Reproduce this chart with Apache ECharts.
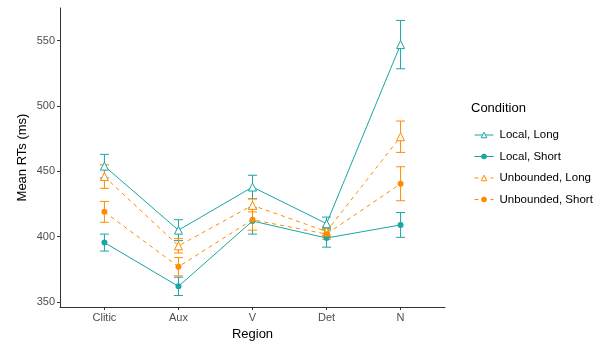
<!DOCTYPE html>
<html><head><meta charset="utf-8">
<script src="https://cdn.jsdelivr.net/npm/echarts@6/dist/echarts.min.js"></script>
<style>html,body{margin:0;padding:0;background:#fff}#c{width:596px;height:342px}</style>
</head><body><div id="c"></div>
<script>
var regions = ['Clitic', 'Aux', 'V', 'Det', 'N'];
var yTicks = [350, 400, 450, 500, 550];
var seriesNames = ['Local, Long', 'Local, Short', 'Unbounded, Long', 'Unbounded, Short'];
var localLong = [454, 405, 438, 410, 547];
var localLongErr = [9, 8, 9, 5, 18.5];
var localShort = [395.5, 362, 412, 399, 409];
var localShortErr = [6.5, 7, 10, 7, 9.5];
var unbLong = [446, 393, 424, 404, 476.5];
var unbLongErr = [9, 5.5, 5, 4, 12];
var unbShort = [419, 377, 413, 402, 440.5];
var unbShortErr = [8, 7, 8, 4, 13];

var TEAL = '#1aa6a6', ORANGE = '#ff8c00';
var FONT = 'Liberation Sans, Arial, sans-serif';
var colors = [TEAL, TEAL, ORANGE, ORANGE];

function pts(vals) { return vals.map(function (v, i) { return [i + 1, v]; }); }
function errData(vals, errs) { return vals.map(function (v, i) { return [i + 1, v - errs[i], v + errs[i]]; }); }

function errSeries(name, vals, errs, color, z) {
  return {
    type: 'custom', name: name + ' err', z: z,
    data: errData(vals, errs),
    encode: { x: 0, y: [1, 2] },
    silent: true,
    renderItem: function (params, api) {
      var lo = api.coord([api.value(0), api.value(1)]);
      var hi = api.coord([api.value(0), api.value(2)]);
      var w = 4.5;
      var st = { stroke: color, lineWidth: 1, fill: null };
      return { type: 'group', children: [
        { type: 'line', shape: { x1: lo[0], y1: lo[1], x2: hi[0], y2: hi[1] }, style: st },
        { type: 'line', shape: { x1: lo[0] - w, y1: lo[1], x2: lo[0] + w, y2: lo[1] }, style: st },
        { type: 'line', shape: { x1: hi[0] - w, y1: hi[1], x2: hi[0] + w, y2: hi[1] }, style: st }
      ]};
    }
  };
}

function lineSeries(name, vals, color, dashed, open, z) {
  return {
    type: 'line', name: name, z: z, data: pts(vals),
    symbol: open ? 'triangle' : 'circle',
    symbolSize: open ? 8 : 6,
    showAllSymbol: true,
    lineStyle: { color: color, width: 1, type: dashed ? [4, 4] : 'solid' },
    itemStyle: open ? { color: '#fff', borderColor: color, borderWidth: 1 } : { color: color, borderColor: color, borderWidth: 0 },
    emphasis: { disabled: true },
    animation: false
  };
}

var legendData = seriesNames.map(function (n, i) {
  var open = (i % 2 === 0);
  return {
    name: n,
    itemStyle: open ? { color: '#fff', borderColor: colors[i], borderWidth: 1 } : { color: colors[i], borderWidth: 0 }
  };
});

var chart = echarts.init(document.getElementById('c'), null, { renderer: 'canvas' });
chart.setOption({
  animation: false,
  backgroundColor: '#fff',
  textStyle: { fontFamily: FONT },
  grid: { left: 60, right: 151, top: 8, bottom: 35, containLabel: false, outerBoundsMode: 'none' },
  xAxis: {
    type: 'value', min: 0.4, max: 5.6,
    name: 'Region', nameLocation: 'middle', nameGap: 13,
    nameTextStyle: { color: '#000', fontSize: 13, fontFamily: FONT, verticalAlign: 'top' },
    splitLine: { show: false },
    axisLine: { show: true, lineStyle: { color: '#333', width: 1 } },
    axisTick: { show: true, length: 3, lineStyle: { color: '#333' }, customValues: [1, 2, 3, 4, 5] },
    axisLabel: { color: '#4d4d4d', fontSize: 11, margin: 5, fontFamily: FONT,
      customValues: [1, 2, 3, 4, 5],
      formatter: function (v) { return regions[Math.round(v) - 1]; } }
  },
  yAxis: {
    type: 'value', min: 346.2, max: 575,
    name: 'Mean RTs (ms)', nameLocation: 'middle', nameGap: 31, nameRotate: 90,
    nameMoveOverlap: false,
    nameTextStyle: { color: '#000', fontSize: 13, fontFamily: FONT },
    splitLine: { show: false },
    axisLine: { show: true, lineStyle: { color: '#333', width: 1 } },
    axisTick: { show: true, length: 3, lineStyle: { color: '#333' }, customValues: yTicks },
    axisLabel: { color: '#4d4d4d', fontSize: 11, margin: 5, fontFamily: FONT, customValues: yTicks }
  },
  title: {
    text: 'Condition', left: 466, top: 97,
    textStyle: { fontSize: 13, fontWeight: 'normal', color: '#000', fontFamily: FONT }
  },
  legend: {
    data: legendData, orient: 'vertical', left: 469, top: 124,
    itemWidth: 19, itemHeight: 7, itemGap: 9.5,
    lineStyle: { width: 1 },
    textStyle: { fontSize: 11.5, color: '#000', fontFamily: FONT, padding: [0, 0, 0, 1] }
  },
  series: [
    errSeries('Local, Long', localLong, localLongErr, TEAL, 2),
    errSeries('Local, Short', localShort, localShortErr, TEAL, 2),
    errSeries('Unbounded, Long', unbLong, unbLongErr, ORANGE, 2),
    errSeries('Unbounded, Short', unbShort, unbShortErr, ORANGE, 2),
    lineSeries('Local, Long', localLong, TEAL, false, true, 3),
    lineSeries('Local, Short', localShort, TEAL, false, false, 3),
    lineSeries('Unbounded, Long', unbLong, ORANGE, true, true, 3),
    lineSeries('Unbounded, Short', unbShort, ORANGE, true, false, 3)
  ]
});
</script></body></html>
